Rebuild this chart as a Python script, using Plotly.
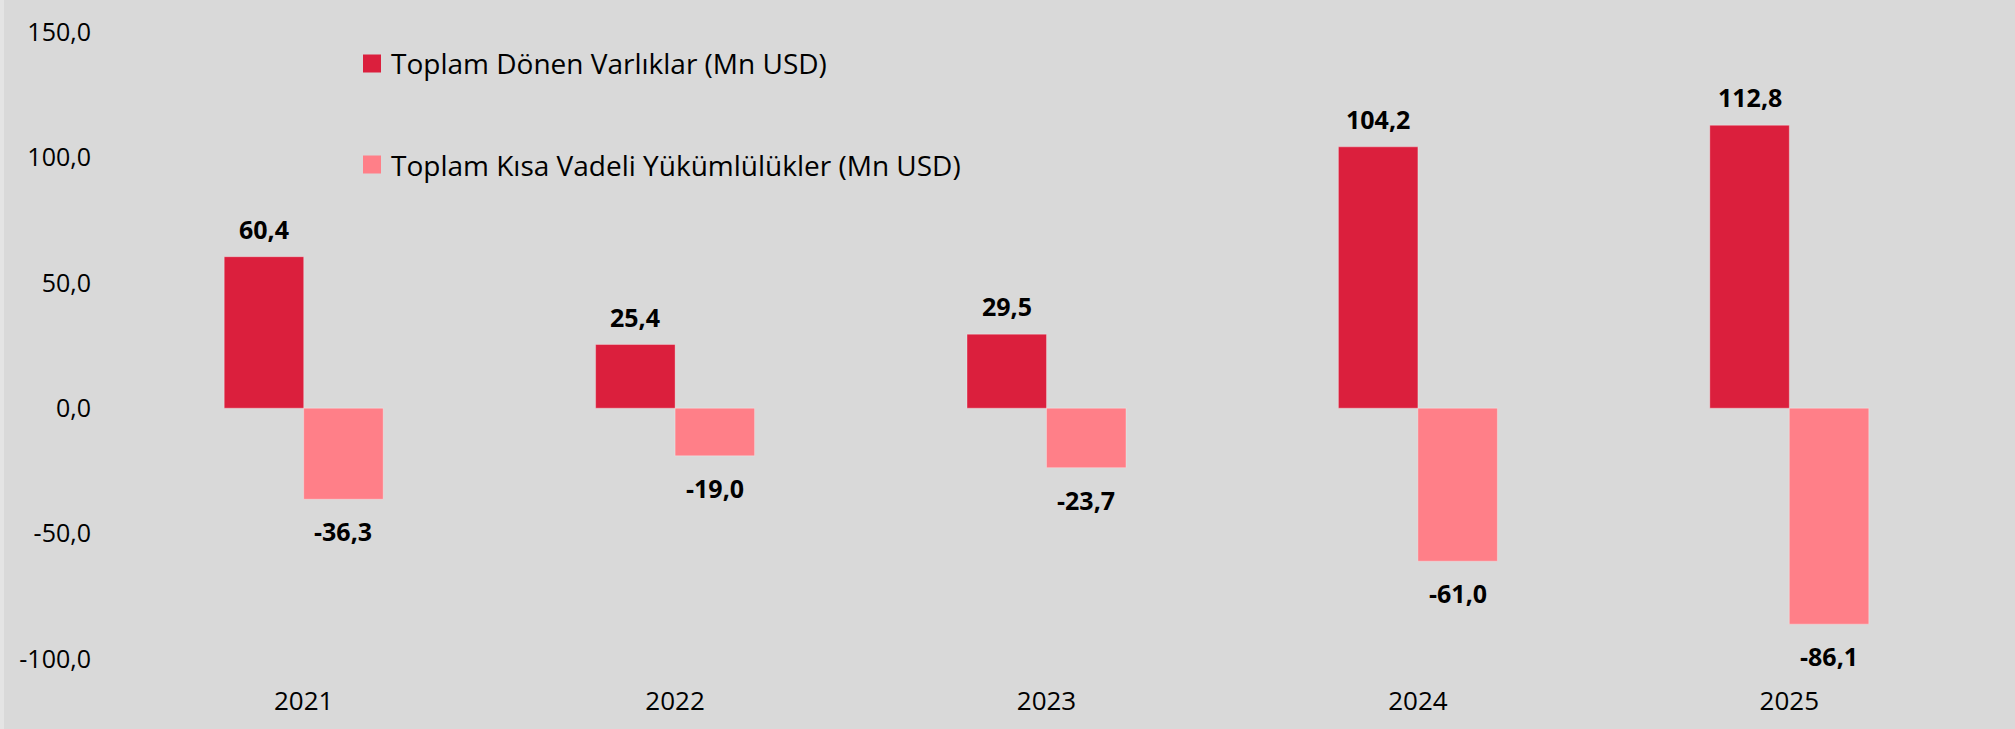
import plotly.graph_objects as go

# Data
years = ["2021", "2022", "2023", "2024", "2025"]
current_assets = [60.4, 25.4, 29.5, 104.2, 112.8]
short_term_liabilities = [-36.3, -19.0, -23.7, -61.0, -86.1]
series_names = ["Toplam Dönen Varlıklar (Mn USD)", "Toplam Kısa Vadeli Yükümlülükler (Mn USD)"]
y_ticks = [-100, -50, 0, 50, 100, 150]

RED = "#DB1F3D"
PINK = "#FF7F88"
BG = "#D9D9D9"
FONT = "Open Sans"

W, H = 2015, 729
ML, MR, MT, MB = 118, 40, 32, 70
PW, PH = W - ML - MR, H - MT - MB


def px_x(px):
    return (px - ML) / PW


def px_y(py):
    return (H - MB - py) / PH


def fmt(v):
    return f"{v:.1f}".replace(".", ",")


fig = go.Figure()
fig.add_trace(go.Bar(x=years, y=current_assets, name=series_names[0],
                     marker=dict(color=RED, line=dict(color="rgba(255,255,255,0.3)", width=1)),
                     showlegend=False))
fig.add_trace(go.Bar(x=years, y=short_term_liabilities, name=series_names[1],
                     marker=dict(color=PINK, line=dict(color="rgba(255,255,255,0.3)", width=1)),
                     showlegend=False))

bargap = 0.572
half = (1 - bargap) / 4  # offset of each bar centre from the category centre

annotations = []
for i, v in enumerate(current_assets):
    annotations.append(dict(x=i - half, y=v, xref="x", yref="y", text=f"<b>{fmt(v)}</b>",
                            showarrow=False, yshift=28, yanchor="middle",
                            font=dict(family=FONT, size=25, color="#000000")))
for i, v in enumerate(short_term_liabilities):
    annotations.append(dict(x=i + half, y=v, xref="x", yref="y", text=f"<b>{fmt(v)}</b>",
                            showarrow=False, yshift=-32, yanchor="middle",
                            font=dict(family=FONT, size=25, color="#000000")))

# Legend drawn as swatches plus text
shapes = []
legend_rows = [(RED, series_names[0], 63.5), (PINK, series_names[1], 164.5)]
for color, label, cy in legend_rows:
    shapes.append(dict(type="rect", xref="paper", yref="paper",
                       x0=px_x(363), x1=px_x(381), y0=px_y(cy + 9), y1=px_y(cy - 9),
                       fillcolor=color, line=dict(width=0)))
    annotations.append(dict(x=px_x(389), y=px_y(cy), xref="paper", yref="paper", text=label,
                            showarrow=False, xanchor="left", yanchor="middle",
                            font=dict(family=FONT, size=28, color="#000000")))

# Lighter strip along the left edge of the chart area
shapes.append(dict(type="rect", xref="paper", yref="paper", layer="below",
                   x0=px_x(0), x1=px_x(4), y0=px_y(H), y1=px_y(0),
                   fillcolor="#E4E4E4", line=dict(width=0)))

fig.update_layout(
    width=W, height=H,
    margin=dict(l=ML, r=MR, t=MT, b=MB, pad=0, autoexpand=False),
    paper_bgcolor=BG, plot_bgcolor=BG,
    barmode="group", bargap=bargap, bargroupgap=0,
    showlegend=False,
    annotations=annotations,
    shapes=shapes,
    xaxis=dict(type="category", range=[-0.5, 4.5], showgrid=False, zeroline=False,
               showline=False, ticks="", ticklabelstandoff=24, automargin=False,
               tickfont=dict(family=FONT, size=26, color="#000000")),
    yaxis=dict(range=[-100, 150], tickvals=y_ticks, ticktext=[fmt(v) for v in y_ticks],
               showgrid=False, zeroline=False, showline=False, ticks="",
               ticklabelstandoff=26, automargin=False,
               tickfont=dict(family=FONT, size=25, color="#000000")),
)

fig.write_html("out.html")
